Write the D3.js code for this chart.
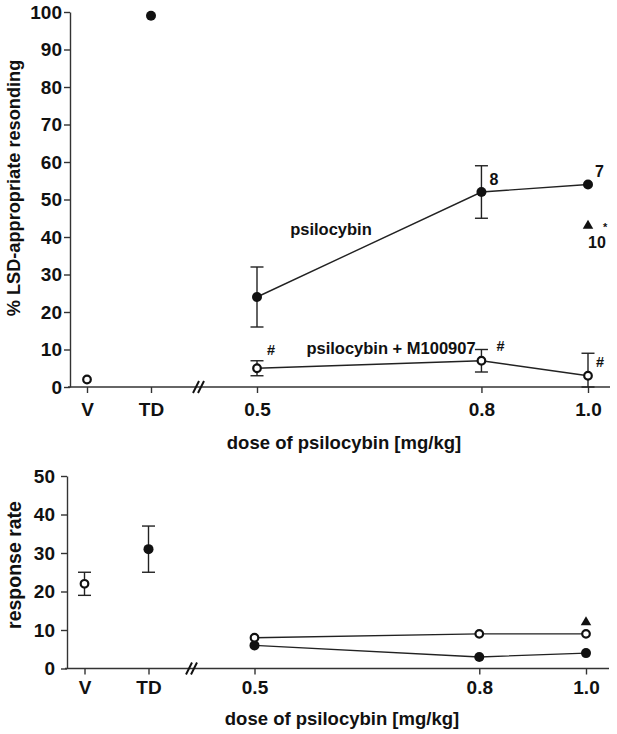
<!DOCTYPE html>
<html>
<head>
<meta charset="utf-8">
<script src="https://cdn.jsdelivr.net/npm/d3@7/dist/d3.min.js"></script>
<style>
  body { margin: 0; background: #fff; }
  svg { display: block; }
  text { font-family: "Liberation Sans", Arial, Helvetica, sans-serif; font-weight: bold; fill: #111; }
</style>
</head>
<body>
<svg id="chart" width="617" height="734"></svg>
<script>
// ---------- data ----------
const categories = ["V", "TD"];
const doses = [0.5, 0.8, 1.0];
const xTickLabels = ["V", "TD", "0.5", "0.8", "1.0"];

// top panel: % LSD-appropriate responding
const topYTicks = [0, 10, 20, 30, 40, 50, 60, 70, 80, 90, 100];
const topVehicle = [2];          // open circle at V
const topTD = [99];              // filled circle at TD
const topPsilocybin = [24, 52, 54];
const topPsilocybinErr = [8, 7, 0];
const topPsiM100907 = [5, 7, 3];
const topPsiM100907Err = [2, 3, 6];
const topTriangle = [43];        // at dose 1.0
const topNLabels = ["8", "7"];   // n at 0.8, 1.0
const topTriangleN = ["10"];

// bottom panel: response rate
const botYTicks = [0, 10, 20, 30, 40, 50];
const botVehicle = [22];
const botVehicleErr = [3];
const botTD = [31];
const botTDErr = [6];
const botPsilocybin = [6, 3, 4];
const botPsiM100907 = [8, 9, 9];
const botTriangle = [12];

const svg = d3.select("#chart");

function drawPanel(cfg) {
  const g = svg.append("g");
  const y = d3.scaleLinear().domain(cfg.yDomain).range([cfg.yBottom, cfg.yTop]);
  const xc = d3.scalePoint().domain(categories).range([cfg.xV, cfg.xTD]);
  const xd = d3.scaleLog().domain([0.5, 1.0]).range([cfg.x05, cfg.x10]);
  const tickPos = categories.map(c => xc(c)).concat(doses.map(d => xd(d)));
  const xAxisScale = d3.scaleOrdinal().domain(xTickLabels).range(tickPos);

  // y axis
  const ya = g.append("g").attr("transform", `translate(${cfg.yAxisX},0)`)
    .call(d3.axisLeft(y).tickValues(cfg.yTicks).tickSize(6).tickSizeOuter(0).tickPadding(cfg.yPad));
  ya.selectAll("path.domain").attr("stroke", "#333").attr("stroke-width", 1.4);
  ya.selectAll(".tick line").attr("stroke", "#333").attr("stroke-width", 1.4);
  ya.selectAll(".tick text").style("font-size", "19px").attr("fill", "#111")
    .style("font-family", "'Liberation Sans', Arial, sans-serif").style("font-weight", "bold");

  // x axis line
  g.append("line").attr("x1", cfg.xAxisStart).attr("x2", cfg.xAxisEnd)
    .attr("y1", y(0)).attr("y2", y(0)).attr("stroke", "#333").attr("stroke-width", 1.4);
  const xa = g.append("g").attr("transform", `translate(0,${y(0)})`)
    .call(d3.axisBottom(xAxisScale).tickSize(6).tickSizeOuter(0).tickPadding(cfg.xPad));
  xa.select("path.domain").remove();
  xa.selectAll(".tick line").attr("stroke", "#333").attr("stroke-width", 1.4);
  xa.selectAll(".tick text").style("font-size", "19px").attr("fill", "#111")
    .style("font-family", "'Liberation Sans', Arial, sans-serif").style("font-weight", "bold");

  // axis break //
  [0, 5].forEach(o => {
    g.append("line").attr("x1", cfg.breakX + o - 3).attr("y1", y(0) + 6)
      .attr("x2", cfg.breakX + o + 3).attr("y2", y(0) - 6)
      .attr("stroke", "#111").attr("stroke-width", 2);
  });

  // titles
  g.append("text").attr("x", cfg.xTitleX).attr("y", cfg.xTitleY)
    .attr("text-anchor", "middle").style("font-size", "18.5px").text("dose of psilocybin [mg/kg]");
  g.append("text").attr("transform", `translate(${cfg.yTitleX},${cfg.yTitleY}) rotate(-90)`)
    .attr("text-anchor", "middle").style("font-size", cfg.yTitleSize).text(cfg.yTitle);

  return { g, y, xc, xd };
}

function errBar(g, x, yTop, yBot) {
  g.append("line").attr("x1", x).attr("x2", x).attr("y1", yTop).attr("y2", yBot)
    .attr("stroke", "#222").attr("stroke-width", 1.4);
  [yTop, yBot].forEach(v => g.append("line").attr("x1", x - 6.5).attr("x2", x + 6.5)
    .attr("y1", v).attr("y2", v).attr("stroke", "#222").attr("stroke-width", 1.4));
}

function series(p, vals, errs, open) {
  const line = d3.line().x((d, i) => p.xd(doses[i])).y(d => p.y(d));
  p.g.append("path").attr("d", line(vals)).attr("fill", "none").attr("stroke", "#222").attr("stroke-width", 1.4);
  if (errs) vals.forEach((v, i) => {
    if (errs[i] > 0) errBar(p.g, p.xd(doses[i]), p.y(v + errs[i]), p.y(Math.max(0, v - errs[i])));
  });
  vals.forEach((v, i) => dot(p.g, p.xd(doses[i]), p.y(v), open));
}

function dot(g, x, yv, open) {
  if (open) g.append("circle").attr("cx", x).attr("cy", yv).attr("r", 3.8)
    .attr("fill", "#fff").attr("stroke", "#111").attr("stroke-width", 2.2);
  else g.append("circle").attr("cx", x).attr("cy", yv).attr("r", 5).attr("fill", "#111");
}

function tri(g, x, yv) {
  g.append("path").attr("d", d3.symbol().type(d3.symbolTriangle).size(48)())
    .attr("transform", `translate(${x},${yv})`).attr("fill", "#111");
}

// ---------- top panel ----------
const topP = drawPanel({
  yDomain: [0, 100], yTop: 12, yBottom: 387, yTicks: topYTicks, yAxisX: 70, yPad: 2,
  xV: 87, xTD: 151, x05: 257, x10: 588, xAxisStart: 68, xAxisEnd: 610, xPad: 10,
  breakX: 196, xTitleX: 344, xTitleY: 449,
  yTitle: "% LSD-appropriate resonding", yTitleX: 20, yTitleY: 188, yTitleSize: "18.2px"
});
dot(topP.g, topP.xc("V"), topP.y(topVehicle[0]), true);
dot(topP.g, topP.xc("TD"), topP.y(topTD[0]), false);
series(topP, topPsilocybin, topPsilocybinErr, false);
series(topP, topPsiM100907, topPsiM100907Err, true);
tri(topP.g, topP.xd(1.0), topP.y(topTriangle[0]));

const lab = (g, x, yv, t, size, anchor) => g.append("text").attr("x", x).attr("y", yv)
  .attr("text-anchor", anchor || "start").style("font-size", size).text(t);
lab(topP.g, topP.xd(0.8) + 8, topP.y(topPsilocybin[1]) - 7, topNLabels[0], "16px");
lab(topP.g, topP.xd(1.0) + 7, topP.y(topPsilocybin[2]) - 8, topNLabels[1], "16px");
lab(topP.g, topP.xd(1.0) + 15, topP.y(topTriangle[0]) + 5, "*", "11px");
lab(topP.g, topP.xd(1.0) + 9, topP.y(topTriangle[0]) + 22, topTriangleN[0], "16px", "middle");
lab(topP.g, 331, 235, "psilocybin", "16.5px", "middle");
lab(topP.g, 391, 354, "psilocybin + M100907", "16.5px", "middle");
lab(topP.g, topP.xd(0.5) + 10, topP.y(topPsiM100907[0]) - 13, "#", "14.5px");
lab(topP.g, topP.xd(0.8) + 15, topP.y(topPsiM100907[1]) - 10, "#", "14.5px");
lab(topP.g, topP.xd(1.0) + 8, topP.y(topPsiM100907[2]) - 9, "#", "14.5px");

// ---------- bottom panel ----------
const botP = drawPanel({
  yDomain: [0, 50], yTop: 476, yBottom: 668.5, yTicks: botYTicks, yAxisX: 67, yPad: 6,
  xV: 84.5, xTD: 148.5, x05: 254.5, x10: 586, xAxisStart: 65, xAxisEnd: 609, xPad: 6,
  breakX: 189, xTitleX: 342, xTitleY: 725,
  yTitle: "response rate", yTitleX: 21, yTitleY: 565, yTitleSize: "19.5px"
});
errBar(botP.g, botP.xc("V"), botP.y(botVehicle[0] + botVehicleErr[0]), botP.y(botVehicle[0] - botVehicleErr[0]));
errBar(botP.g, botP.xc("TD"), botP.y(botTD[0] + botTDErr[0]), botP.y(botTD[0] - botTDErr[0]));
dot(botP.g, botP.xc("V"), botP.y(botVehicle[0]), true);
dot(botP.g, botP.xc("TD"), botP.y(botTD[0]), false);
series(botP, botPsilocybin, null, false);
series(botP, botPsiM100907, null, true);
tri(botP.g, botP.xd(1.0), botP.y(botTriangle[0]));
</script>
</body>
</html>
